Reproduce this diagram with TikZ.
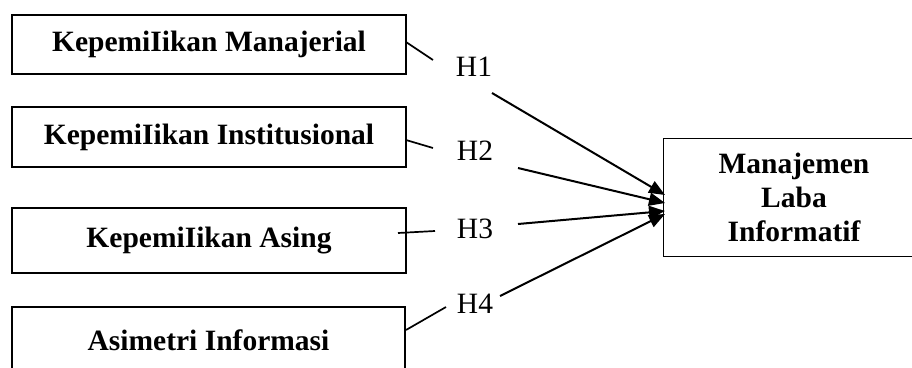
\documentclass[tikz,border=0pt]{standalone}
\usepackage{fontspec}
\setmainfont{Liberation Serif}
\usetikzlibrary{arrows.meta}
\begin{document}
\begin{tikzpicture}[x=1pt,y=-1pt,
  varbox/.style={draw,line width=1.3pt,minimum width=394pt,inner sep=0pt,font=\fontsize{29.5}{34}\selectfont\bfseries},
  hlabel/.style={inner sep=0pt,font=\fontsize{29.5}{34}\selectfont},
  link/.style={line width=1.7pt},
  arr/.style={line width=2pt,-{Triangle[length=16pt,width=13pt]}}]
\useasboundingbox (0,0) rectangle (912,367);
\begin{scope}
\clip (0,0) rectangle (912,367);
\node[varbox,minimum height=59pt] (m1) at (209,44.5) {KepemiIikan Manajerial};
\node[varbox,minimum height=60pt] (m2) at (209,137) {KepemiIikan Institusional};
\node[varbox,minimum height=65pt] (m3) at (209,240.5) {KepemiIikan Asing};
\node[varbox,minimum height=66pt,minimum width=393pt] (m4) at (208.5,340) {Asimetri Informasi};
\end{scope}
\node[minimum width=260pt,minimum height=117pt,inner sep=0pt,
  align=center,font=\fontsize{29.5}{34}\selectfont\bfseries] (y) at (794,197.5) {Manajemen\\Laba\\Informatif};
\draw[line width=1.3pt] (912,0 |- y.north) -- (y.north west) -- (y.south west) -- (912,0 |- y.south);
\node[hlabel] (h1) at (474,66.5) {H1};
\node[hlabel] (h2) at (475,151) {H2};
\node[hlabel] (h3) at (475,229) {H3};
\node[hlabel] (h4) at (475,304) {H4};
% link ends
\coordinate (s1) at (406,42); \coordinate (e1) at (433,60);
\coordinate (s2) at (406,140); \coordinate (e2) at (433,148);
\coordinate (s3) at (398,233); \coordinate (e3) at (435,231);
\coordinate (s4) at (406,330); \coordinate (e4) at (446,307);
\draw[link] (s1) -- (e1);
\draw[link] (s2) -- (e2);
\draw[link] (s3) -- (e3);
\draw[link] (s4) -- (e4);
% arrows
\coordinate (b1) at (492,93);  \coordinate (t1) at (665,195);
\coordinate (b2) at (518,168); \coordinate (t2) at (665,203);
\coordinate (b3) at (518,224); \coordinate (t3) at (665,211);
\coordinate (b4) at (500,296); \coordinate (t4) at (665,214);
\draw[arr] (b1) -- (t1);
\draw[arr] (b2) -- (t2);
\draw[arr] (b3) -- (t3);
\draw[arr] (b4) -- (t4);
\end{tikzpicture}
\end{document}
